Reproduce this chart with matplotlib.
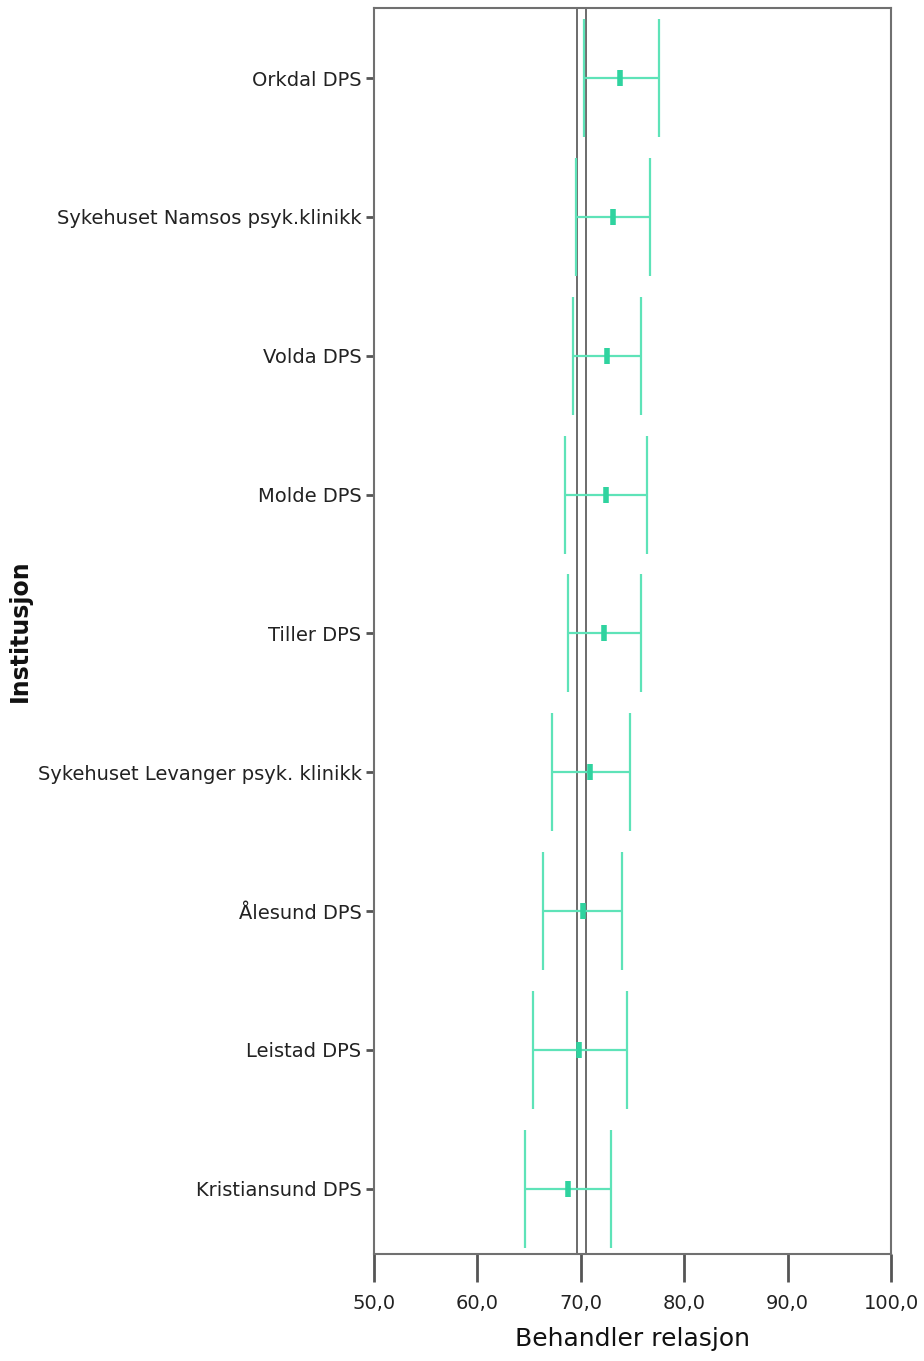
import matplotlib
matplotlib.use("Agg")
import matplotlib.pyplot as plt

# ============================
# Data - mean and 95% CI per institution (top to bottom)
# ============================
institusjoner = [
    "Orkdal DPS",
    "Sykehuset Namsos psyk.klinikk",
    "Volda DPS",
    "Molde DPS",
    "Tiller DPS",
    "Sykehuset Levanger psyk. klinikk",
    "Ålesund DPS",
    "Leistad DPS",
    "Kristiansund DPS",
]
gjennomsnitt = [73.8, 73.1, 72.5, 72.4, 72.2, 70.9, 70.2, 69.8, 68.8]
nedre = [70.3, 69.5, 69.2, 68.5, 68.8, 67.2, 66.3, 65.4, 64.6]
ovre = [77.6, 76.7, 75.8, 76.4, 75.8, 74.8, 74.0, 74.5, 72.9]

# reference lines (overall CI)
referanse = [69.6, 70.5]

x_ticks = [50, 60, 70, 80, 90, 100]
x_ticklabels = ["50,0", "60,0", "70,0", "80,0", "90,0", "100,0"]

# ============================
# Figure
# ============================
fig = plt.figure(figsize=(9.24, 13.61), dpi=100)
ax = fig.add_axes([0.4048, 0.0786, 0.5595, 0.9155])

pos = list(range(len(institusjoner)))
xerr = [[m - lo for m, lo in zip(gjennomsnitt, nedre)],
        [hi - m for m, hi in zip(gjennomsnitt, ovre)]]

for r in referanse:
    ax.axvline(r, color="#606060", lw=1.3, zorder=1)

ax.errorbar(gjennomsnitt, pos, xerr=xerr, fmt="none", ecolor="#5ee3b8",
            elinewidth=1.6, capsize=42.5, capthick=1.6, zorder=2)
ax.plot(gjennomsnitt, pos, ls="none", marker="|", markersize=11,
        markeredgewidth=4, color="#2fd39f", zorder=3)

ax.set_xlim(50, 100)
ax.set_ylim(len(institusjoner) - 0.53, -0.505)
ax.set_xticks(x_ticks)
ax.set_xticklabels(x_ticklabels, fontsize=14, color="#222222")
ax.set_yticks(pos)
ax.set_yticklabels(institusjoner, fontsize=14, color="#222222")

for s in ax.spines.values():
    s.set_color("#707070")
    s.set_linewidth(1.5)

ax.tick_params(axis="x", length=20, width=2, color="#555555", pad=9)
ax.tick_params(axis="y", length=6, width=2, color="#555555", pad=3)

ax.set_xlabel("Behandler relasjon", fontsize=18, color="#111111", labelpad=10)
ax.set_ylabel("Institusjon", fontsize=17, fontweight="bold", color="#111111",
              labelpad=4)

fig.savefig("out.png", dpi=100)
